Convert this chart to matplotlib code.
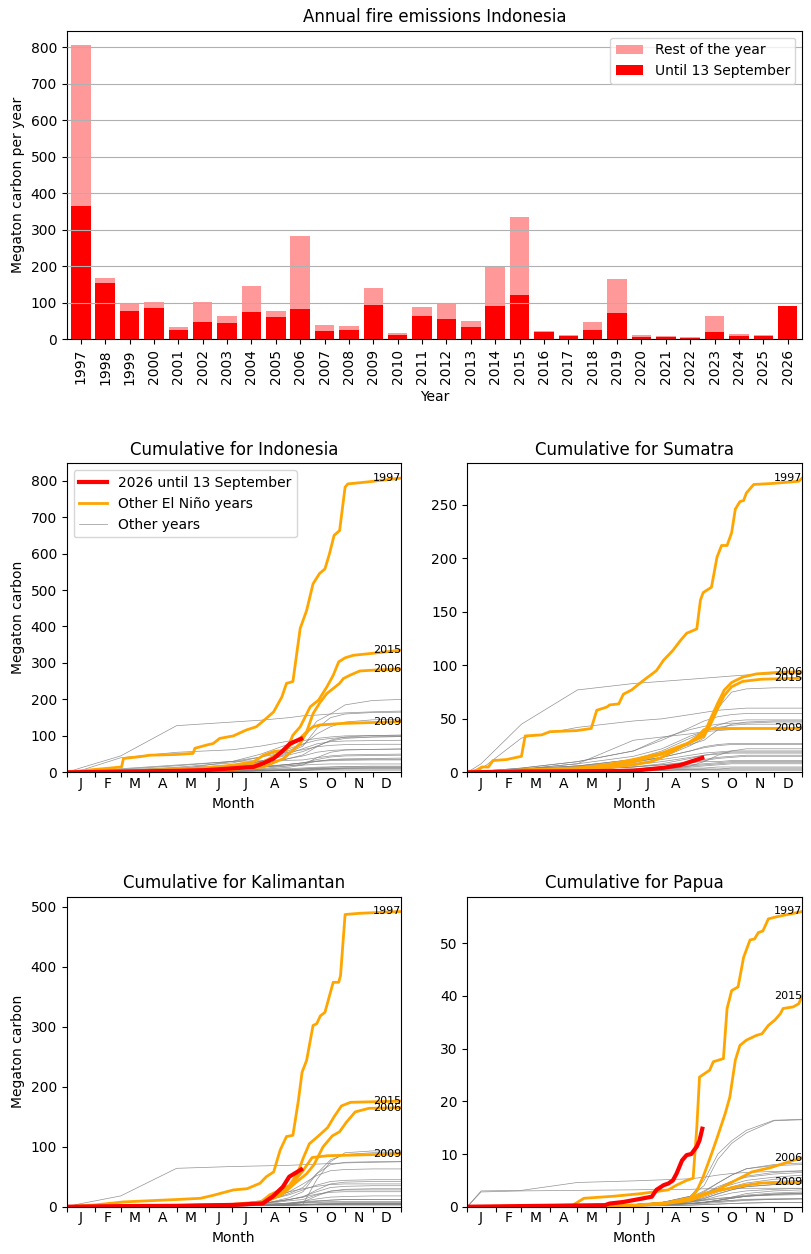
import numpy as np
import matplotlib
matplotlib.use('Agg')
import matplotlib.pyplot as plt
from matplotlib.lines import Line2D

# Annual totals Indonesia (Megaton carbon)
years = list(range(1997, 2027))
until_sep13 = [364, 154, 77, 86, 26, 47, 45, 75, 61, 83, 23, 26, 94, 12, 64,
               56, 34, 91, 121, 20, 9, 26, 72, 6, 6, 5, 20, 9, 9, 91]
rest_of_year = [443, 14, 21, 16, 8, 55, 19, 71, 16, 199, 16, 10, 46, 5, 24,
                42, 16, 109, 213, 3, 3, 21, 93, 6, 3, 1, 44, 6, 3, 0]

# Month axis
month_starts = [0, 31, 59, 90, 120, 151, 181, 212, 243, 273, 304, 334, 365]
month_mids = [15, 45, 74, 105, 135, 166, 196, 227, 258, 288, 319, 349]
month_labels = ['J', 'F', 'M', 'A', 'M', 'J', 'J', 'A', 'S', 'O', 'N', 'D']

elnino_years = [1997, 2006, 2009, 2015]
other_years = [1998, 1999, 2000, 2001, 2002, 2003, 2004, 2005, 2007, 2008, 2010,
               2011, 2012, 2013, 2014, 2016, 2017, 2018, 2019, 2020, 2021, 2022,
               2023, 2024, 2025]
gray_days = [0, 15, 59, 120, 181, 212, 243, 258, 273, 288, 304, 334, 365]

# ---------------- Indonesia ----------------
ind_1997_day = [0, 15, 31, 45, 60, 62, 80, 91, 120, 138, 140, 153, 160, 167, 182, 196, 207, 218,
                226, 235, 240, 247, 255, 262, 269, 276, 282, 287, 292, 298, 304, 307, 327, 365]
ind_1997_val = [0, 4, 8, 11, 15, 38, 43, 47, 49, 52, 66, 75, 79, 93, 100, 116, 125, 148,
                166, 207, 244, 249, 395, 444, 517, 545, 558, 600, 650, 663, 782, 791, 796, 807]
ind_2006_day = [0, 31, 59, 90, 120, 151, 182, 215, 237, 255, 262, 269, 277, 284, 291, 298, 302,
                309, 320, 340, 365]
ind_2006_val = [0, 1, 2, 3, 4, 6, 8, 15, 38, 79, 111, 161, 193, 216, 230, 244, 257,
                266, 278, 281, 283]
ind_2009_day = [0, 31, 59, 90, 120, 151, 182, 213, 237, 255, 262, 269, 277, 300, 365]
ind_2009_val = [0, 2, 4, 5, 6, 8, 12, 25, 61, 94, 111, 125, 130, 134, 139]
ind_2015_day = [0, 31, 59, 90, 120, 151, 182, 204, 215, 226, 240, 247, 255, 266, 275, 284, 291,
                297, 304, 313, 340, 365]
ind_2015_val = [0, 2, 4, 6, 8, 12, 20, 29, 47, 57, 61, 102, 125, 180, 198, 234, 266,
                303, 314, 321, 328, 335]
ind_2026_day = [0, 31, 59, 90, 120, 151, 182, 204, 215, 226, 235, 244, 256]
ind_2026_val = [0, 1, 2, 3, 4, 6, 11, 15, 25, 38, 57, 79, 92]
ind_other = [
    [0, 12, 45, 128, 138, 143, 150, 155, 157, 160, 163, 166, 168],
    [0, 2, 10, 20, 30, 42, 65, 78, 88, 93, 96, 97, 98],
    [0, 2, 8, 18, 30, 50, 78, 87, 93, 97, 100, 101, 102],
    [0, 1, 3, 6, 10, 16, 22, 26, 30, 32, 33, 34, 34],
    [0, 1, 4, 8, 14, 22, 38, 48, 70, 88, 97, 101, 102],
    [0, 1, 3, 8, 14, 22, 38, 45, 55, 60, 62, 63, 64],
    [0, 1, 4, 9, 16, 30, 60, 76, 105, 125, 138, 144, 146],
    [0, 1, 6, 14, 26, 42, 56, 62, 70, 74, 76, 77, 77],
    [0, 0.5, 2, 4, 6, 10, 18, 23, 30, 35, 37, 38, 39],
    [0, 0.5, 2, 5, 9, 14, 22, 26, 31, 34, 35, 36, 36],
    [0, 0.5, 2, 4, 6, 8, 10, 12, 14, 15, 16, 17, 17],
    [0, 1, 3, 7, 14, 28, 52, 65, 78, 84, 86, 87, 88],
    [0, 1, 5, 12, 20, 30, 48, 57, 72, 86, 93, 97, 98],
    [0, 1, 3, 8, 30, 32, 33, 34, 40, 45, 48, 49, 50],
    [0, 5, 40, 55, 62, 72, 86, 91, 140, 160, 185, 197, 200],
    [0, 2, 6, 10, 13, 15, 18, 20, 22, 23, 23, 23, 23],
    [0, 0.5, 1, 2, 4, 6, 8, 9, 10, 11, 12, 12, 12],
    [0, 0.5, 2, 5, 9, 14, 22, 26, 35, 42, 45, 46, 47],
    [0, 1, 3, 8, 15, 30, 55, 72, 120, 150, 160, 164, 165],
    [0, 0.3, 1, 2, 3, 4, 5, 6, 8, 10, 11, 12, 12],
    [0, 0.3, 1, 2, 3, 4, 5, 6, 7, 8, 9, 9, 9],
    [0, 0.3, 1, 2, 3, 4, 5, 5, 6, 6, 6, 6, 6],
    [0, 0.3, 1, 3, 5, 8, 14, 20, 40, 55, 61, 63, 64],
    [0, 0.3, 1, 2, 3, 5, 7, 9, 12, 14, 15, 15, 15],
    [0, 0.3, 1, 2, 3, 5, 7, 9, 10, 11, 12, 12, 12],
]

# ---------------- Sumatra ----------------
sum_1997_day = [0, 10, 16, 23, 28, 43, 59, 63, 81, 90, 119, 135, 141, 152, 155, 165, 170, 179,
                192, 206, 214, 224, 232, 239, 250, 254, 257, 266, 272, 277, 283, 288, 292, 297,
                301, 304, 312, 333, 361, 365]
sum_1997_val = [0, 2, 5, 5, 11, 12, 15, 34, 35, 38, 39, 41, 58, 61, 63, 64, 73, 77,
                86, 95, 105, 114, 123, 130, 134, 161, 168, 173, 201, 212, 212, 224, 246, 253,
                254, 261, 269, 270, 272, 275]
sum_2006_day = [0, 59, 120, 151, 181, 212, 243, 258, 265, 273, 280, 288, 300, 315, 340, 365]
sum_2006_val = [0, 2, 4, 6, 10, 17, 28, 36, 50, 65, 77, 84, 89, 92, 93.5, 94]
sum_2009_day = [0, 59, 120, 151, 181, 200, 212, 225, 240, 250, 258, 270, 365]
sum_2009_val = [0, 2, 3, 4, 7, 10, 14, 20, 27, 33, 40, 41, 41]
sum_2015_day = [0, 59, 120, 151, 181, 212, 230, 243, 258, 265, 273, 280, 288, 300, 320, 365]
sum_2015_val = [0, 2, 4, 7, 12, 18, 24, 28, 34, 45, 60, 72, 80, 85, 87, 88]
sum_2026_day = [0, 59, 120, 181, 214, 232, 256]
sum_2026_val = [0, 0.8, 1.0, 1.5, 4.3, 6.8, 13.5]
sum_other = [
    [0, 3, 32, 42, 48, 50, 54, 56, 58, 59, 60, 60, 60],
    [0, 1, 3, 6, 10, 14, 20, 24, 26, 27, 27, 27, 27],
    [0, 1, 4, 10, 20, 32, 40, 43, 45, 46, 46, 47, 47],
    [0, 0.5, 2, 4, 8, 12, 16, 18, 19, 20, 20, 20, 20],
    [0, 0.5, 3, 6, 12, 18, 26, 30, 40, 45, 47, 48, 48],
    [0, 0.5, 2, 5, 10, 14, 20, 23, 25, 26, 26, 26, 26],
    [0, 0.5, 3, 6, 12, 20, 32, 38, 44, 48, 49, 49, 49],
    [0, 1, 4, 10, 20, 30, 42, 48, 52, 54, 55, 55, 55],
    [0, 0.5, 2, 3, 5, 7, 10, 12, 14, 15, 16, 16, 16],
    [0, 0.5, 2, 4, 7, 10, 14, 16, 17, 18, 18, 18, 18],
    [0, 0.3, 1, 2, 3, 5, 7, 8, 9, 10, 10, 10, 10],
    [0, 0.3, 1, 3, 5, 8, 13, 16, 18, 19, 19, 19, 19],
    [0, 1, 3, 8, 15, 22, 34, 38, 42, 44, 45, 45, 45],
    [0, 1, 3, 8, 30, 33, 36, 38, 39, 40, 41, 41, 41],
    [0, 8, 45, 77, 83, 85, 87, 88, 89, 90, 91, 92, 92],
    [0, 0.3, 1, 3, 5, 7, 9, 10, 10, 11, 11, 11, 11],
    [0, 0.2, 1, 1, 2, 3, 4, 4, 5, 5, 5, 5, 5],
    [0, 0.3, 1, 2, 3, 5, 9, 11, 13, 14, 15, 15, 15],
    [0, 0.5, 2, 5, 9, 14, 25, 32, 60, 75, 78, 79, 79],
    [0, 0.2, 1, 1, 2, 2, 3, 3, 3, 4, 4, 4, 4],
    [0, 0.2, 0.5, 1, 1.5, 2, 2.5, 3, 3, 3, 3, 3, 3],
    [0, 0.2, 0.5, 1, 1.5, 2, 2, 2, 2, 2, 2, 2, 2],
    [0, 0.2, 0.5, 1, 2, 3, 6, 10, 16, 20, 22, 22, 22],
    [0, 0.2, 0.5, 1, 2, 3, 5, 6, 7, 8, 8, 8, 8],
    [0, 0.2, 0.5, 1, 2, 3, 6, 7, 8, 9, 9, 9, 9],
]

# ---------------- Kalimantan ----------------
kal_1997_day = [0, 31, 62, 120, 146, 160, 182, 197, 211, 218, 226, 233, 240, 247, 253, 257, 262,
                269, 273, 277, 282, 291, 297, 299, 304, 320, 365]
kal_1997_val = [0, 3, 8, 12, 14, 19, 28, 30, 39, 50, 58, 94, 117, 119, 177, 224, 244,
                302, 305, 318, 324, 374, 374, 385, 487, 489, 492]
kal_2006_day = [0, 59, 120, 181, 212, 235, 250, 262, 270, 280, 290, 298, 305, 315, 330, 365]
kal_2006_val = [0, 1, 2, 3, 5, 20, 40, 55, 70, 100, 118, 125, 140, 158, 164, 165]
kal_2009_day = [0, 59, 120, 181, 212, 222, 240, 250, 258, 268, 285, 365]
kal_2009_val = [0, 1, 2, 3, 6, 15, 28, 45, 60, 82, 85, 88]
kal_2015_day = [0, 59, 120, 181, 212, 222, 232, 243, 252, 258, 265, 275, 285, 292, 300, 310, 365]
kal_2015_val = [0, 1, 2, 4, 8, 20, 27, 35, 55, 80, 105, 118, 132, 150, 168, 174, 176]
kal_2026_day = [0, 59, 120, 181, 214, 225, 236, 243, 256]
kal_2026_val = [0, 1, 1.5, 3, 5.5, 17, 33, 50, 62]
kal_other = [
    [0, 5, 18, 64, 67, 68, 69, 70, 71, 72, 73, 74, 75],
    [0, 0.3, 1, 2, 4, 8, 20, 28, 36, 42, 44, 45, 45],
    [0, 0.3, 1, 2, 4, 10, 25, 30, 34, 37, 38, 38, 38],
    [0, 0.2, 0.5, 1, 2, 3, 5, 6, 7, 8, 8, 8, 8],
    [0, 0.3, 1, 2, 3, 5, 12, 16, 28, 38, 41, 42, 42],
    [0, 0.3, 1, 2, 3, 5, 12, 16, 21, 24, 25, 25, 25],
    [0, 0.3, 1, 2, 3, 6, 22, 32, 55, 78, 87, 90, 90],
    [0, 0.2, 0.5, 1, 2, 3, 6, 8, 10, 11, 12, 12, 12],
    [0, 0.2, 0.5, 1, 2, 3, 6, 9, 13, 16, 17, 18, 18],
    [0, 0.2, 0.5, 1, 2, 3, 5, 7, 9, 11, 12, 12, 12],
    [0, 0.1, 0.5, 1, 1.5, 2, 3, 3.5, 4, 4.5, 5, 5, 5],
    [0, 0.3, 1, 2, 3, 6, 25, 38, 52, 60, 62, 63, 63],
    [0, 0.3, 1, 2, 3, 5, 12, 17, 25, 32, 34, 35, 35],
    [0, 0.1, 0.5, 1, 1.5, 2, 3, 4, 5, 6, 6, 6, 6],
    [0, 0.1, 0.5, 1, 1.5, 2, 3, 4, 45, 75, 90, 93, 93],
    [0, 0.3, 1, 2, 3, 4, 6, 7, 8, 8, 8, 8, 8],
    [0, 0.1, 0.5, 1, 1.5, 2, 3, 3, 3.5, 4, 4, 4, 4],
    [0, 0.1, 0.5, 1, 2, 4, 10, 12, 20, 26, 28, 28, 28],
    [0, 0.1, 0.5, 1, 2, 4, 15, 25, 55, 70, 74, 75, 75],
    [0, 0.1, 0.5, 1, 1.5, 2, 2.5, 3, 4, 5, 6, 6, 6],
    [0, 0.1, 0.5, 1, 1.5, 2, 2.5, 3, 3.5, 4, 4, 4, 4],
    [0, 0.1, 0.5, 1, 1.5, 2, 2.5, 3, 3, 3, 3, 3, 3],
    [0, 0.1, 0.5, 1, 1.5, 2, 4, 8, 18, 26, 29, 30, 30],
    [0, 0.1, 0.5, 1, 1.5, 2, 3, 3.5, 4, 4.5, 5, 5, 5],
    [0, 0.1, 0.5, 1, 1.5, 2, 2.5, 3, 3, 3, 3, 3, 3],
]

# ---------------- Papua ----------------
pap_1997_day = [0, 115, 127, 160, 190, 219, 228, 239, 246, 250, 253, 264, 268, 279, 283, 288,
                295, 301, 308, 313, 317, 322, 328, 337, 365]
pap_1997_val = [0, 0.3, 1.6, 2.0, 2.5, 3.2, 4.1, 5.0, 5.4, 15, 24.6, 25.9, 27.5, 28.1, 37.6, 41,
                41.7, 47.3, 50.6, 50.8, 52, 52.3, 54.6, 55, 56]
pap_2006_day = [0, 181, 212, 243, 270, 290, 310, 330, 350, 365]
pap_2006_val = [0, 0.2, 0.5, 1.2, 3.0, 4.8, 6.6, 7.4, 8.5, 9.3]
pap_2009_day = [0, 181, 212, 240, 260, 280, 300, 320, 365]
pap_2009_val = [0, 0.2, 0.6, 1.5, 2.6, 3.3, 4.0, 4.5, 4.6]
pap_2015_day = [0, 181, 221, 243, 250, 257, 266, 272, 281, 286, 292, 297, 304, 315, 321, 328,
                335, 341, 344, 355, 361, 365]
pap_2015_val = [0, 0.3, 0.8, 1.6, 3.0, 5.7, 10, 13, 17.7, 20.8, 27.8, 30.6, 31.6, 32.5, 32.8,
                34.4, 35.4, 36.6, 37.6, 37.9, 38.5, 40]
pap_2026_day = [0, 150, 155, 170, 192, 201, 206, 214, 219, 224, 228, 234, 239, 244, 250, 253, 256]
pap_2026_val = [0, 0.3, 0.6, 0.9, 1.6, 1.9, 3.2, 4.1, 4.4, 5.0, 6.3, 8.8, 9.8, 10.0, 11.4, 12.6, 14.8]
pap_other = [
    [0, 2.8, 3.0, 3.1, 3.2, 3.3, 3.3, 3.4, 3.4, 3.5, 3.5, 3.5, 3.5],
    [0, 0.05, 0.1, 0.2, 0.3, 0.5, 1, 1.3, 1.6, 1.8, 2, 2.2, 2.3],
    [0, 0.05, 0.1, 0.2, 0.3, 0.5, 0.8, 1.2, 1.5, 1.8, 2.2, 2.6, 2.8],
    [0, 0.05, 0.1, 0.2, 0.3, 0.4, 0.6, 0.8, 1, 1.2, 1.3, 1.4, 1.5],
    [0, 0.05, 0.1, 0.2, 0.4, 0.8, 1.5, 2.5, 3.5, 4.8, 5.8, 6.5, 6.8],
    [0, 0.05, 0.1, 0.2, 0.3, 0.5, 1, 1.5, 2.5, 3.2, 3.8, 4.2, 4.4],
    [0, 0.05, 0.1, 0.2, 0.4, 0.8, 1.6, 2.8, 4.5, 6, 7.2, 8, 8.3],
    [0, 0.05, 0.1, 0.2, 0.3, 0.5, 0.9, 1.3, 2, 2.6, 3, 3.3, 3.5],
    [0, 0.05, 0.1, 0.2, 0.3, 0.5, 1, 1.8, 2.8, 3.5, 4.2, 4.8, 5],
    [0, 0.05, 0.1, 0.2, 0.3, 0.4, 0.6, 0.8, 1, 1.2, 1.4, 1.5, 1.5],
    [0, 0.02, 0.05, 0.1, 0.15, 0.2, 0.3, 0.4, 0.5, 0.6, 0.7, 0.8, 0.8],
    [0, 0.05, 0.1, 0.2, 0.4, 0.8, 1.5, 2.2, 3, 3.8, 4.5, 5.2, 5.5],
    [0, 0.05, 0.1, 0.2, 0.4, 0.7, 1.5, 2.5, 3.8, 4.8, 5.6, 6.2, 6.5],
    [0, 0.05, 0.1, 0.2, 0.3, 0.4, 0.6, 0.8, 1.2, 1.6, 2, 2.4, 2.6],
    [0, 0.05, 0.1, 0.2, 0.4, 0.8, 1.8, 3, 4.5, 6, 7.2, 7.8, 8],
    [0, 3.0, 3.1, 4.6, 4.9, 5.1, 5.3, 5.6, 6.0, 6.3, 6.5, 6.7, 6.8],
    [0, 0.05, 0.1, 0.2, 0.3, 0.4, 0.5, 0.6, 0.8, 1, 1.2, 1.4, 1.5],
    [0, 0.05, 0.1, 0.2, 0.4, 0.8, 1.5, 2.5, 3.5, 4.2, 5, 5.6, 6],
    [0, 0.05, 0.1, 0.2, 0.4, 0.8, 2, 4, 9, 12, 14, 16.3, 16.5],
    [0, 0.05, 0.1, 0.2, 0.3, 0.4, 0.6, 0.8, 1.2, 1.8, 2.5, 3, 3.2],
    [0, 0.05, 0.1, 0.2, 0.3, 0.4, 0.6, 0.8, 1.2, 1.6, 2, 2.4, 2.5],
    [0, 0.02, 0.05, 0.1, 0.15, 0.2, 0.3, 0.4, 0.5, 0.6, 0.7, 0.8, 0.8],
    [0, 0.05, 0.1, 0.2, 0.4, 0.8, 2, 5, 10, 12.5, 14.5, 16.4, 16.6],
    [0, 0.05, 0.1, 0.2, 0.3, 0.5, 1, 1.6, 2.4, 3.2, 3.8, 4.2, 4.4],
    [0, 0.05, 0.1, 0.2, 0.3, 0.4, 0.6, 0.9, 1.2, 1.6, 2, 2.3, 2.5],
]

rosa = '#ff9999'
vermelho = 'red'
laranja = 'orange'

fig = plt.figure(figsize=(8.12, 12.54), dpi=100)

# ---- annual bars ----
ax = fig.add_axes([0.0821, 0.7294, 0.9059, 0.2461])
x = np.arange(len(years))
ax.bar(x, until_sep13, width=0.8, color=vermelho, label='Until 13 September')
ax.bar(x, rest_of_year, width=0.8, bottom=until_sep13, color=rosa, label='Rest of the year')
ax.set_xticks(x)
ax.set_xticklabels([str(y) for y in years], rotation=90)
ax.set_xlim(-0.58, len(years) - 0.4)
ax.set_ylim(0, 845)
ax.yaxis.grid(True, color='#b0b0b0')
ax.set_axisbelow(False)
ax.set_xlabel('Year')
ax.set_ylabel('Megaton carbon per year')
ax.set_title('Annual fire emissions Indonesia')
h, l = ax.get_legend_handles_labels()
ax.legend(h[::-1], l[::-1], loc='upper right')


def painel(pos, titulo, outros, nino, atual, ylabel):
    ax = fig.add_axes(pos)
    for vals in outros:
        ax.plot(gray_days, vals, color='gray', lw=0.5, alpha=0.85)
    for ano, (d, v) in zip(elnino_years, nino):
        ax.plot(d, v, color=laranja, lw=2)
        ax.text(365, v[-1], str(ano), ha='right', va='center', fontsize=8)
    ax.plot(atual[0], atual[1], color=vermelho, lw=3)
    ax.set_xlim(0, 365)
    ax.set_ylim(bottom=0)
    ax.set_xticks(month_starts)
    ax.set_xticklabels([])
    ax.set_xticks(month_mids, minor=True)
    ax.set_xticklabels(month_labels, minor=True)
    ax.tick_params(axis='x', which='minor', length=0)
    ax.set_xlabel('Month')
    if ylabel:
        ax.set_ylabel('Megaton carbon')
    ax.set_title(titulo)
    return ax


a1 = painel([0.0821, 0.3841, 0.4117, 0.2464], 'Cumulative for Indonesia', ind_other,
            [(ind_1997_day, ind_1997_val), (ind_2006_day, ind_2006_val),
             (ind_2009_day, ind_2009_val), (ind_2015_day, ind_2015_val)],
            (ind_2026_day, ind_2026_val), True)
handles = [Line2D([], [], color=vermelho, lw=3),
           Line2D([], [], color=laranja, lw=2),
           Line2D([], [], color='gray', lw=0.5, alpha=0.85)]
a1.legend(handles, ['2026 until 13 September', 'Other El Niño years', 'Other years'],
          loc='upper left')

painel([0.5755, 0.3841, 0.4126, 0.2464], 'Cumulative for Sumatra', sum_other,
       [(sum_1997_day, sum_1997_val), (sum_2006_day, sum_2006_val),
        (sum_2009_day, sum_2009_val), (sum_2015_day, sum_2015_val)],
       (sum_2026_day, sum_2026_val), False)

painel([0.0821, 0.0377, 0.4117, 0.2472], 'Cumulative for Kalimantan', kal_other,
       [(kal_1997_day, kal_1997_val), (kal_2006_day, kal_2006_val),
        (kal_2009_day, kal_2009_val), (kal_2015_day, kal_2015_val)],
       (kal_2026_day, kal_2026_val), True)

painel([0.5755, 0.0377, 0.4126, 0.2472], 'Cumulative for Papua', pap_other,
       [(pap_1997_day, pap_1997_val), (pap_2006_day, pap_2006_val),
        (pap_2009_day, pap_2009_val), (pap_2015_day, pap_2015_val)],
       (pap_2026_day, pap_2026_val), False)

fig.savefig('out.png', dpi=100)
